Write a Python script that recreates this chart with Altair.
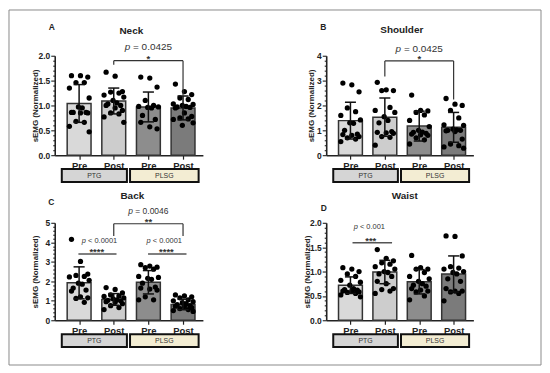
import altair as alt
import pandas as pd

FONT = "Liberation Sans"
INK = "#222222"

# ---------------- data ----------------
conditions = ["Pre", "Post", "Pre", "Post"]
positions = [0, 1, 2, 3]
groups = ["PTG", "PLSG"]
group_fill = ["#d5d5d5", "#f3edd3"]
group_span = [[-0.5, 1.38], [1.47, 3.45]]
bar_colors = ["#d9d9d9", "#cdcdcd", "#8d8d8d", "#7b7b7b"]

# A  Neck
neck_mean = [1.04, 1.09, 0.97, 0.95]
neck_sd = [0.38, 0.26, 0.30, 0.24]
neck_pre_ptg = [1.60, 1.60, 1.57, 1.46, 1.46, 1.35, 1.15, 0.97, 0.95, 0.86, 0.86, 0.85, 0.86, 0.85, 0.68, 0.66, 0.58, 0.47]
neck_post_ptg = [1.67, 1.59, 1.28, 1.27, 1.25, 1.21, 1.17, 1.10, 1.05, 1.03, 1.00, 1.00, 0.95, 0.90, 0.85, 0.83, 0.77, 0.66]
neck_pre_plsg = [1.57, 1.55, 1.37, 1.10, 1.00, 0.98, 0.97, 0.96, 0.95, 0.80, 0.72, 0.66, 0.57, 0.53]
neck_post_plsg = [1.43, 1.28, 1.22, 1.15, 1.12, 1.03, 1.02, 1.00, 0.98, 0.97, 0.96, 0.95, 0.85, 0.78, 0.75, 0.73, 0.72, 0.65, 0.60]

# B  Shoulder
shoulder_mean = [1.39, 1.53, 1.17, 1.12]
shoulder_sd = [0.74, 0.77, 0.60, 0.60]
shoulder_pre_ptg = [2.90, 2.83, 2.55, 1.90, 1.75, 1.60, 1.42, 1.30, 1.28, 1.00, 0.85, 0.83, 0.80, 0.75, 0.70, 0.65, 0.55]
shoulder_post_ptg = [2.93, 2.63, 2.60, 2.60, 1.92, 1.80, 1.72, 1.55, 1.40, 1.30, 0.95, 0.92, 0.90, 0.88, 0.75, 0.72, 0.40]
shoulder_pre_plsg = [2.42, 1.80, 1.78, 1.72, 1.62, 1.40, 1.15, 1.00, 0.93, 0.92, 0.88, 0.85, 0.82, 0.80, 0.70, 0.62, 0.45]
shoulder_post_plsg = [2.28, 2.05, 2.00, 1.80, 1.50, 1.22, 1.20, 1.05, 1.02, 1.00, 1.00, 0.98, 0.95, 0.65, 0.45, 0.38, 0.33, 0.28]

# C  Back
back_mean = [1.92, 1.07, 1.95, 0.81]
back_sd = [0.82, 0.30, 0.60, 0.27]
back_pre_ptg = [4.15, 3.02, 2.37, 2.30, 2.25, 2.22, 2.05, 1.90, 1.85, 1.65, 1.55, 1.50, 1.20, 1.15, 1.12, 0.92]
back_post_ptg = [1.68, 1.58, 1.40, 1.30, 1.25, 1.22, 1.15, 1.10, 1.05, 1.02, 1.00, 0.95, 0.92, 0.85, 0.75, 0.65, 0.55]
back_pre_plsg = [2.85, 2.78, 2.72, 2.70, 2.62, 2.25, 2.20, 2.15, 2.10, 1.90, 1.70, 1.65, 1.60, 1.55, 1.20, 1.05, 1.05]
back_post_plsg = [1.30, 1.25, 1.20, 1.15, 1.05, 1.00, 0.95, 0.90, 0.85, 0.80, 0.75, 0.72, 0.70, 0.65, 0.60, 0.55, 0.50, 0.45]

# D  Waist
waist_mean = [0.72, 0.99, 0.79, 0.95]
waist_sd = [0.17, 0.24, 0.25, 0.37]
waist_pre_ptg = [1.08, 1.05, 1.00, 0.95, 0.90, 0.82, 0.78, 0.72, 0.65, 0.63, 0.62, 0.60, 0.60, 0.58, 0.57, 0.55, 0.52, 0.48]
waist_post_ptg = [1.45, 1.27, 1.22, 1.18, 1.15, 1.10, 1.05, 1.00, 0.98, 0.95, 0.90, 0.80, 0.75, 0.65, 0.63, 0.60, 0.55]
waist_pre_plsg = [1.33, 1.08, 1.05, 1.05, 0.98, 0.90, 0.85, 0.80, 0.75, 0.72, 0.70, 0.65, 0.62, 0.60, 0.58, 0.50, 0.42]
waist_post_plsg = [1.73, 1.72, 1.32, 1.10, 1.07, 1.05, 1.00, 0.98, 0.95, 0.85, 0.80, 0.65, 0.60, 0.60, 0.58, 0.55, 0.40]

# horizontal spread of the dots inside each bar (x offsets, in bar units)
jitter = [-0.22, 0.04, 0.25, -0.09, 0.15, -0.28, 0.29, -0.02, 0.09, -0.17, 0.20]

XS = alt.Scale(domain=[-0.56, 3.43], nice=False, zero=False)

CHAR_W = {" ": 0.278, "=": 0.584, "<": 0.584, ".": 0.278}


def em_width(s):
    return sum(CHAR_W.get(c, 0.556) for c in s)


def panel(letter, title, means, sds, pts, ymax, major, minor, fmt, W, H,
          letter_pos, title_pos, title_x, brackets, lines, ptexts, stars, frame=None):
    ys = alt.Scale(domain=[0, ymax], nice=False, zero=True)

    test = f"abs(datum.value/{major} - round(datum.value/{major})) < 0.001"
    nsteps = int(round(ymax / minor))
    yvals = [round(i * minor, 6) for i in range(nsteps + 1)]
    yaxis = alt.Axis(values=yvals,
                     labelExpr=f"{test} ? format(datum.value, '{fmt}') : ''",
                     tickSize={"condition": {"test": test, "value": 4}, "value": 2},
                     labelFont=FONT, labelFontSize=8.5, labelFontWeight="bold",
                     labelColor=INK, labelPadding=1, labelOverlap=False, labelFlush=False,
                     domainColor=INK, domainWidth=1.6, tickColor=INK, tickWidth=1.1,
                     grid=False, title="sEMG (Normalized)", titleFont=FONT,
                     titleFontSize=8, titleFontWeight="bold", titleColor=INK,
                     titleX=title_x, titleY=H / 2, titleAngle=270,
                     titleAlign="center", titleBaseline="middle")
    label_arr = "[" + ",".join(f"'{c}'" for c in conditions) + "]"
    xaxis = alt.Axis(values=positions, labelExpr=f"{label_arr}[datum.value]",
                     labelFont=FONT, labelFontSize=9.5, labelFontWeight="bold",
                     labelColor=INK, labelPadding=1, labelFlush=False,
                     domainColor=INK, domainWidth=1.6, tickColor=INK, tickWidth=1.2,
                     tickSize=4, grid=False, title="")

    nx = lambda f: alt.X(f, scale=XS, axis=xaxis)
    ny = lambda f: alt.Y(f, scale=ys, axis=yaxis)

    bars = pd.DataFrame({"pos": positions, "cond": conditions, "mean": means,
                         "sd": sds, "color": bar_colors})
    bars["lo"] = bars["mean"] - bars["sd"]
    bars["hi"] = bars["mean"] + bars["sd"]
    bars["cl"] = bars["pos"] - 0.16
    bars["cr"] = bars["pos"] + 0.16

    rows = []
    for p, vals in zip(positions, pts):
        for i, v in enumerate(sorted(vals, reverse=True)):
            rows.append({"px": p + jitter[i % len(jitter)], "val": v})
    pdf = pd.DataFrame(rows)

    layers = []
    dummy = pd.DataFrame({"k": [0]})

    layers.append(alt.Chart(bars).mark_bar(size=24, stroke="#333333", strokeWidth=1.5).encode(
        x=nx("pos:Q"), y=ny("mean:Q"),
        color=alt.Color("color:N", scale=None, legend=None)))

    if frame is not None:
        layers.append(alt.Chart(dummy).mark_rect(fill="white", fillOpacity=0, stroke="#8a8a8a",
                                                 strokeWidth=1).encode(
            x=alt.value(frame[0]), x2=alt.value(frame[1]),
            y=alt.value(frame[2]), y2=alt.value(frame[3])))

    gdf = pd.DataFrame({"g": groups, "x0": [s[0] for s in group_span],
                        "x1": [s[1] for s in group_span], "fill": group_fill})
    gdf["xc"] = (gdf["x0"] + gdf["x1"]) / 2
    layers.append(alt.Chart(gdf).mark_rect(stroke="#111111", strokeWidth=2).encode(
        x=nx("x0:Q"), x2="x1:Q", y=alt.value(H + 14), y2=alt.value(H + 27),
        color=alt.Color("fill:N", scale=None, legend=None)))
    layers.append(alt.Chart(gdf).mark_text(font=FONT, fontSize=7, color="#333333",
                                           baseline="middle").encode(
        x=nx("xc:Q"), y=alt.value(H + 20.5), text="g:N"))

    layers.append(alt.Chart(pdf).mark_circle(size=28, color="#000000", opacity=1).encode(
        x=nx("px:Q"), y=ny("val:Q")))

    layers.append(alt.Chart(bars).mark_rule(color="#111111", strokeWidth=1.5).encode(
        x=nx("pos:Q"), y=ny("lo:Q"), y2="hi:Q"))
    layers.append(alt.Chart(bars).mark_rule(color="#111111", strokeWidth=1.5).encode(
        x=nx("cl:Q"), x2="cr:Q", y=ny("hi:Q")))
    layers.append(alt.Chart(bars).mark_rule(color="#111111", strokeWidth=1.5).encode(
        x=nx("cl:Q"), x2="cr:Q", y=ny("lo:Q")))

    if brackets:
        bdf = pd.DataFrame(brackets, columns=["x", "x2", "y", "y2"])
        layers.append(alt.Chart(bdf).mark_rule(color="#333333", strokeWidth=1.2).encode(
            x=nx("x:Q"), x2="x2:Q", y=ny("y:Q"), y2="y2:Q"))
    if lines:
        ldf = pd.DataFrame(lines, columns=["x", "x2", "y", "y2"])
        layers.append(alt.Chart(ldf).mark_rule(color="#555555", strokeWidth=1.6).encode(
            x=nx("x:Q"), x2="x2:Q", y=ny("y:Q"), y2="y2:Q"))

    for (x, y, rest, size) in ptexts:
        w = (0.556 + em_width(rest)) * size
        tdf = pd.DataFrame({"x": [x], "y": [y], "p": ["p"], "r": [rest.strip()]})
        layers.append(alt.Chart(tdf).mark_text(font=FONT, fontSize=size, fontStyle="italic",
                                               color="#333333", align="left", baseline="middle",
                                               dx=-w / 2).encode(
            x=nx("x:Q"), y=ny("y:Q"), text="p:N"))
        layers.append(alt.Chart(tdf).mark_text(font=FONT, fontSize=size, color="#333333",
                                               align="left", baseline="middle",
                                               dx=-w / 2 + (0.556 + 0.278) * size).encode(
            x=nx("x:Q"), y=ny("y:Q"), text="r:N"))

    if stars:
        sdf = pd.DataFrame(stars, columns=["x", "y", "t"])
        layers.append(alt.Chart(sdf).mark_text(font=FONT, fontSize=9.5, fontWeight="bold",
                                               color="#333333", baseline="alphabetic",
                                               dy=1).encode(
            x=nx("x:Q"), y=ny("y:Q"), text="t:N"))

    layers.append(alt.Chart(dummy).mark_text(font=FONT, fontSize=8.5, fontWeight="bold",
                                             color=INK, baseline="middle", text=letter).encode(
        x=alt.value(letter_pos[0]), y=alt.value(letter_pos[1])))
    layers.append(alt.Chart(dummy).mark_text(font=FONT, fontSize=10, fontWeight="bold",
                                             color=INK, baseline="middle", text=title).encode(
        x=alt.value(title_pos[0]), y=alt.value(title_pos[1])))

    return alt.layer(*layers).properties(width=W, height=H)


pA = panel("A", "Neck", neck_mean, neck_sd,
           [neck_pre_ptg, neck_post_ptg, neck_pre_plsg, neck_post_plsg],
           2.0, 0.5, 0.1, ".1f", 149, 100, (-3, -29), (77, -25), -19,
           [(1, 3, 1.90, 1.90), (1, 1, 1.82, 1.90), (3, 3, 1.18, 1.90)], [],
           [(2.0, 2.18, " = 0.0425", 10)], [(2.0, 1.90, "*")],
           frame=(-46, 489, -46, 311))

pB = panel("B", "Shoulder", shoulder_mean, shoulder_sd,
           [shoulder_pre_ptg, shoulder_post_ptg, shoulder_pre_plsg, shoulder_post_plsg],
           4.0, 1, 0.2, "d", 148, 100, (-3, -29), (76, -26), -15,
           [(1, 3, 3.79, 3.79), (1, 1, 3.16, 3.79), (3, 3, 2.24, 3.79)], [],
           [(2.0, 4.29, " = 0.0425", 10)], [(2.0, 3.79, "*")])

pC = panel("C", "Back", back_mean, back_sd,
           [back_pre_ptg, back_post_ptg, back_pre_plsg, back_post_plsg],
           5.0, 1, 0.2, "d", 149, 98, (-3.5, -21), (78, -27), -19,
           [(1, 3, 4.95, 4.95), (1, 1, 4.32, 4.95), (3, 3, 4.32, 4.95)],
           [(-0.02, 1.08, 3.40, 3.40), (1.99, 3.10, 3.40, 3.40)],
           [(2.0, 5.59, " = 0.0046", 8.5), (0.59, 4.07, " < 0.0001", 7.5),
            (2.46, 4.07, " < 0.0001", 7.5)],
           [(2.0, 4.95, "**"), (0.51, 3.40, "****"), (2.52, 3.40, "****")])

pD = panel("D", "Waist", waist_mean, waist_sd,
           [waist_pre_ptg, waist_post_ptg, waist_pre_plsg, waist_post_plsg],
           2.0, 0.5, 0.1, ".1f", 148, 98, (-2.5, -15), (79, -27), -19,
           [], [(0.06, 1.21, 1.59, 1.59)],
           [(0.55, 1.92, " < 0.001", 7.5)], [(0.59, 1.59, "***")])

chart = alt.concat(pA, pB, pC, pD, columns=2,
                   spacing={"row": 68, "column": 124}, bounds="flush").properties(
    padding=0, background="white").configure_view(strokeWidth=0)

chart.save("out.html", embed_options={"renderer": "svg", "actions": False})
